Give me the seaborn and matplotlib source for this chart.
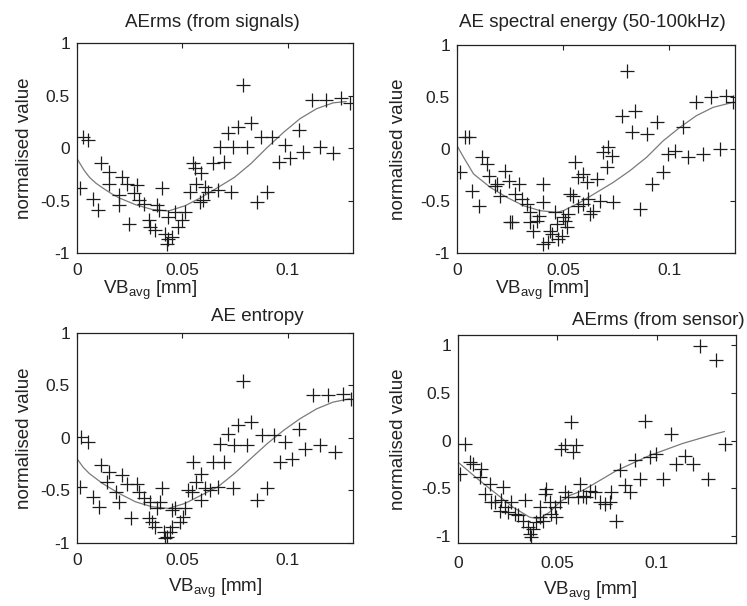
import matplotlib
matplotlib.use("Agg")
import matplotlib.pyplot as plt
import seaborn as sns
import pandas as pd

# ---------------- data ----------------
titles = ["AErms (from signals)", "AE spectral energy (50-100kHz)",
          "AE entropy", "AErms (from sensor)"]

x1 = [0.0028, 0.0052, 0.0013, 0.0075, 0.0098, 0.0114, 0.0153, 0.0153, 0.0200, 0.0200,
      0.0216, 0.0239, 0.0270, 0.0286, 0.0294, 0.0317, 0.0247, 0.0341, 0.0348, 0.0372,
      0.0388, 0.0403, 0.0380, 0.0419, 0.0434, 0.0450, 0.0427, 0.0434, 0.0466, 0.0481,
      0.0497, 0.0513, 0.0536, 0.0552, 0.0559, 0.0567, 0.0591, 0.0598, 0.0583, 0.0606,
      0.0622, 0.0645, 0.0669, 0.0677, 0.0700, 0.0716, 0.0739, 0.0763, 0.0809, 0.0825,
      0.0731, 0.0786, 0.0856, 0.0903, 0.0872, 0.0927, 0.0958, 0.0989, 0.1013, 0.1052,
      0.1075, 0.1153, 0.1216, 0.1114, 0.1184, 0.1255, 0.1294]
y1 = [0.108, 0.076, -0.385, -0.481, -0.592, -0.146, -0.226, -0.338, -0.449, -0.545,
      -0.274, -0.338, -0.433, -0.354, -0.497, -0.529, -0.720, -0.688, -0.752, -0.783,
      -0.592, -0.385, -0.545, -0.815, -0.863, -0.847, -0.911, -0.656, -0.608, -0.752,
      -0.688, -0.608, -0.417, -0.146, -0.194, -0.338, -0.242, -0.497, -0.513, -0.369,
      -0.417, -0.146, -0.401, 0.013, -0.131, 0.140, 0.013, 0.204, 0.013, 0.236,
      -0.417, 0.602, -0.513, -0.417, 0.108, 0.108, -0.131, 0.029, -0.099, 0.172,
      -0.035, 0.013, -0.051, 0.459, 0.459, 0.475, 0.427]
fx1 = [0.0, 0.0015, 0.0035, 0.0060, 0.0090, 0.0122, 0.0160, 0.0200, 0.0278, 0.0356,
       0.0434, 0.0513, 0.0591, 0.0653, 0.0747, 0.0825, 0.0903, 0.0981, 0.1059, 0.1138,
       0.1216, 0.1278]
fy1 = [-0.099, -0.150, -0.215, -0.280, -0.335, -0.380, -0.430, -0.475, -0.540, -0.585,
       -0.600, -0.550, -0.470, -0.395, -0.280, -0.150, 0.005, 0.150, 0.280, 0.375,
       0.430, 0.443]

x2 = [0.0016, 0.0039, 0.0055, 0.0071, 0.0102, 0.0118, 0.0141, 0.0149, 0.0180, 0.0188,
      0.0204, 0.0227, 0.0243, 0.0290, 0.0251, 0.0259, 0.0274, 0.0306, 0.0329, 0.0345,
      0.0345, 0.0360, 0.0376, 0.0384, 0.0407, 0.0407, 0.0407, 0.0431, 0.0439, 0.0447,
      0.0462, 0.0470, 0.0478, 0.0494, 0.0501, 0.0509, 0.0517, 0.0525, 0.0533, 0.0548,
      0.0556, 0.0572, 0.0595, 0.0611, 0.0572, 0.0595, 0.0619, 0.0627, 0.0642, 0.0658,
      0.0674, 0.0689, 0.0713, 0.0729, 0.0705, 0.0736, 0.0776, 0.0799, 0.0823, 0.0838,
      0.0893, 0.0862, 0.0917, 0.0940, 0.0972, 0.0995, 0.1026, 0.1066, 0.1089, 0.1128,
      0.1160, 0.1199, 0.1238, 0.1269, 0.1301]
y2 = [-0.224, 0.112, 0.112, -0.401, -0.545, -0.080, -0.144, -0.256, -0.353, -0.337,
      -0.449, -0.208, -0.304, -0.337, -0.705, -0.705, -0.433, -0.481, -0.529, -0.609,
      -0.705, -0.785, -0.689, -0.641, -0.337, -0.513, -0.913, -0.897, -0.785, -0.817,
      -0.609, -0.721, -0.865, -0.833, -0.657, -0.689, -0.753, -0.625, -0.433, -0.449,
      -0.128, -0.272, -0.240, -0.321, -0.545, -0.529, -0.481, -0.625, -0.593, -0.288,
      -0.497, -0.032, 0.016, -0.064, -0.176, -0.513, 0.321, 0.753, 0.160, 0.369,
      0.144, -0.577, -0.337, 0.256, -0.224, -0.048, -0.016, 0.208, -0.080, 0.449,
      -0.048, 0.497, 0.000, 0.513, 0.449]
fx2 = [0.0, 0.0031, 0.0078, 0.0157, 0.0235, 0.0313, 0.0392, 0.0470, 0.0501, 0.0580,
       0.0658, 0.0736, 0.0815, 0.0893, 0.0972, 0.1050, 0.1128, 0.1207, 0.1301]
fy2 = [0.032, -0.080, -0.240, -0.369, -0.465, -0.545, -0.593, -0.609, -0.593, -0.513,
       -0.417, -0.321, -0.208, -0.080, 0.080, 0.208, 0.321, 0.401, 0.449]

x3 = [0.0020, 0.0052, 0.0013, 0.0075, 0.0106, 0.0114, 0.0153, 0.0145, 0.0184, 0.0200,
      0.0216, 0.0239, 0.0286, 0.0294, 0.0317, 0.0348, 0.0255, 0.0341, 0.0356, 0.0372,
      0.0395, 0.0403, 0.0380, 0.0411, 0.0427, 0.0442, 0.0450, 0.0419, 0.0450, 0.0466,
      0.0489, 0.0505, 0.0513, 0.0528, 0.0544, 0.0552, 0.0567, 0.0591, 0.0606, 0.0591,
      0.0630, 0.0645, 0.0669, 0.0677, 0.0700, 0.0716, 0.0739, 0.0747, 0.0763, 0.0809,
      0.0825, 0.0786, 0.0856, 0.0903, 0.0880, 0.0934, 0.0966, 0.0989, 0.1020, 0.1052,
      0.1083, 0.1153, 0.1223, 0.1122, 0.1192, 0.1263, 0.1302]
y3 = [0.009, -0.038, -0.465, -0.560, -0.655, -0.259, -0.323, -0.418, -0.513, -0.608,
      -0.354, -0.434, -0.434, -0.513, -0.576, -0.608, -0.766, -0.766, -0.797, -0.845,
      -0.608, -0.481, -0.671, -0.892, -0.940, -0.892, -0.845, -0.956, -0.687, -0.671,
      -0.797, -0.750, -0.671, -0.497, -0.513, -0.228, -0.418, -0.339, -0.481, -0.592,
      -0.497, -0.228, -0.465, -0.054, -0.228, 0.041, -0.481, -0.070, 0.120, -0.070,
      0.152, 0.547, -0.592, -0.481, 0.025, 0.025, -0.228, -0.038, -0.196, 0.089,
      -0.101, -0.070, -0.133, 0.405, 0.405, 0.421, 0.373]
fx3 = [0.0, 0.0030, 0.0059, 0.0122, 0.0200, 0.0278, 0.0356, 0.0434, 0.0513, 0.0591,
       0.0669, 0.0747, 0.0825, 0.0903, 0.0981, 0.1059, 0.1138, 0.1216, 0.1294]
fy3 = [-0.196, -0.280, -0.339, -0.434, -0.528, -0.608, -0.655, -0.671, -0.623, -0.544,
       -0.465, -0.339, -0.196, -0.054, 0.073, 0.184, 0.278, 0.342, 0.373]

x4 = [0.0008, 0.0034, 0.0059, 0.0076, 0.0117, 0.0109, 0.0134, 0.0159, 0.0168, 0.0185,
      0.0218, 0.0227, 0.0210, 0.0235, 0.0252, 0.0268, 0.0285, 0.0302, 0.0336, 0.0327,
      0.0352, 0.0361, 0.0369, 0.0378, 0.0394, 0.0411, 0.0428, 0.0411, 0.0436, 0.0445,
      0.0461, 0.0470, 0.0487, 0.0495, 0.0512, 0.0520, 0.0537, 0.0571, 0.0579, 0.0596,
      0.0537, 0.0554, 0.0612, 0.0604, 0.0629, 0.0646, 0.0663, 0.0688, 0.0713, 0.0738,
      0.0763, 0.0772, 0.0797, 0.0814, 0.0839, 0.0864, 0.0889, 0.0915, 0.0940, 0.0965,
      0.0998, 0.1032, 0.1074, 0.1099, 0.1141, 0.1183, 0.1217, 0.1259, 0.1300, 0.1342]
y4 = [-0.349, -0.035, -0.227, -0.244, -0.297, -0.384, -0.558, -0.454, -0.646, -0.646,
      -0.628, -0.489, -0.733, -0.698, -0.750, -0.646, -0.768, -0.785, -0.628, -0.838,
      -0.908, -0.977, -1.012, -0.925, -0.855, -0.803, -0.838, -0.698, -0.558, -0.506,
      -0.646, -0.768, -0.698, -0.803, -0.646, -0.087, -0.052, 0.192, -0.122, -0.052,
      -0.541, -0.593, -0.454, -0.593, -0.576, -0.593, -0.524, -0.541, -0.646, -0.663,
      -0.646, -0.541, -0.838, -0.314, -0.471, -0.541, -0.209, -0.401, 0.209, -0.175,
      -0.140, -0.401, 0.070, -0.244, -0.157, -0.244, 0.995, -0.401, 0.838, -0.035]
fx4 = [0.0, 0.0109, 0.0193, 0.0277, 0.0361, 0.0411, 0.0461, 0.0512, 0.0562, 0.0628,
       0.0799, 0.0965, 0.1131, 0.1302, 0.1342]
fy4 = [-0.227, -0.419, -0.558, -0.698, -0.803, -0.820, -0.750, -0.646, -0.576, -0.524,
       -0.314, -0.157, -0.031, 0.073, 0.094]

xtick_vals = [0, 0.05, 0.1]
xtick_labels = ["0", "0.05", "0.1"]
ytick_vals = [-1, -0.5, 0, 0.5, 1]
ytick_labels = ["-1", "-0.5", "0", "0.5", "1"]

# ---------------- style ----------------
sns.set_style("white")
plt.rcParams["font.family"] = ["Liberation Sans", "DejaVu Sans"]
plt.rcParams["mathtext.default"] = "regular"

fig = plt.figure(figsize=(7.47, 6.06), dpi=100)
fig.patch.set_facecolor("white")

positions = [[0.103, 0.5825, 0.3695, 0.3465],
             [0.6118, 0.5825, 0.3722, 0.3432],
             [0.103, 0.104, 0.3695, 0.3465],
             [0.6131, 0.104, 0.3722, 0.3432]]
xlims = [(0, 0.131), (0, 0.131), (0, 0.131), (0, 0.140)]
ylims = [(-1, 1), (-1, 1), (-1, 1), (-1.073, 1.105)]
title_pos = [(0.489, 1.076), (0.486, 1.087), (0.652, 1.057), (0.72, 1.048)]
xlabel_pos = [(0.264, -0.124), (0.306, -0.124), (0.5, -0.162), (0.475, -0.178)]
ylabel_pos = [(-0.159, 0.5), (-0.18, 0.5), (-0.159, 0.5), (-0.183, 0.5)]
xpads = [7.5, 7.5, 7.5, 9.5]

data = [(x1, y1, fx1, fy1), (x2, y2, fx2, fy2), (x3, y3, fx3, fy3), (x4, y4, fx4, fy4)]

for i, (xs, ys, fxs, fys) in enumerate(data):
    ax = fig.add_axes(positions[i])
    ax.set_facecolor("white")
    pts = pd.DataFrame({"VB": xs, "val": ys})
    fit = pd.DataFrame({"VB": fxs, "val": fys})
    sns.scatterplot(data=pts, x="VB", y="val", marker="+", s=95, color="#1c1c1c",
                    linewidth=0.9, ax=ax, zorder=3)
    sns.lineplot(data=fit, x="VB", y="val", color="#7a7a7a", linewidth=0.9,
                 estimator=None, sort=True, ax=ax, zorder=2)
    ax.set_xlim(*xlims[i])
    ax.set_ylim(*ylims[i])
    ax.set_xticks(xtick_vals)
    ax.set_xticklabels(xtick_labels)
    ax.set_yticks(ytick_vals)
    ax.set_yticklabels(ytick_labels)
    ax.tick_params(axis="both", direction="in", top=True, right=True, length=3.5,
                   width=0.8, colors="#222222", labelsize=12.5)
    ax.tick_params(axis="x", pad=xpads[i])
    ax.tick_params(axis="y", pad=5)
    for sp in ax.spines.values():
        sp.set_visible(True)
        sp.set_color("#222222")
        sp.set_linewidth(0.9)
    ax.set_title(titles[i], x=title_pos[i][0], y=title_pos[i][1], pad=0,
                 fontsize=13.5, color="#222222")
    ax.set_xlabel("VB$_{avg}$ [mm]", fontsize=13.5, color="#222222")
    ax.set_ylabel("normalised value", fontsize=13.5, color="#222222")
    ax.xaxis.set_label_coords(*xlabel_pos[i])
    ax.yaxis.set_label_coords(*ylabel_pos[i])

fig.savefig("out.png", dpi=100, facecolor="white")
